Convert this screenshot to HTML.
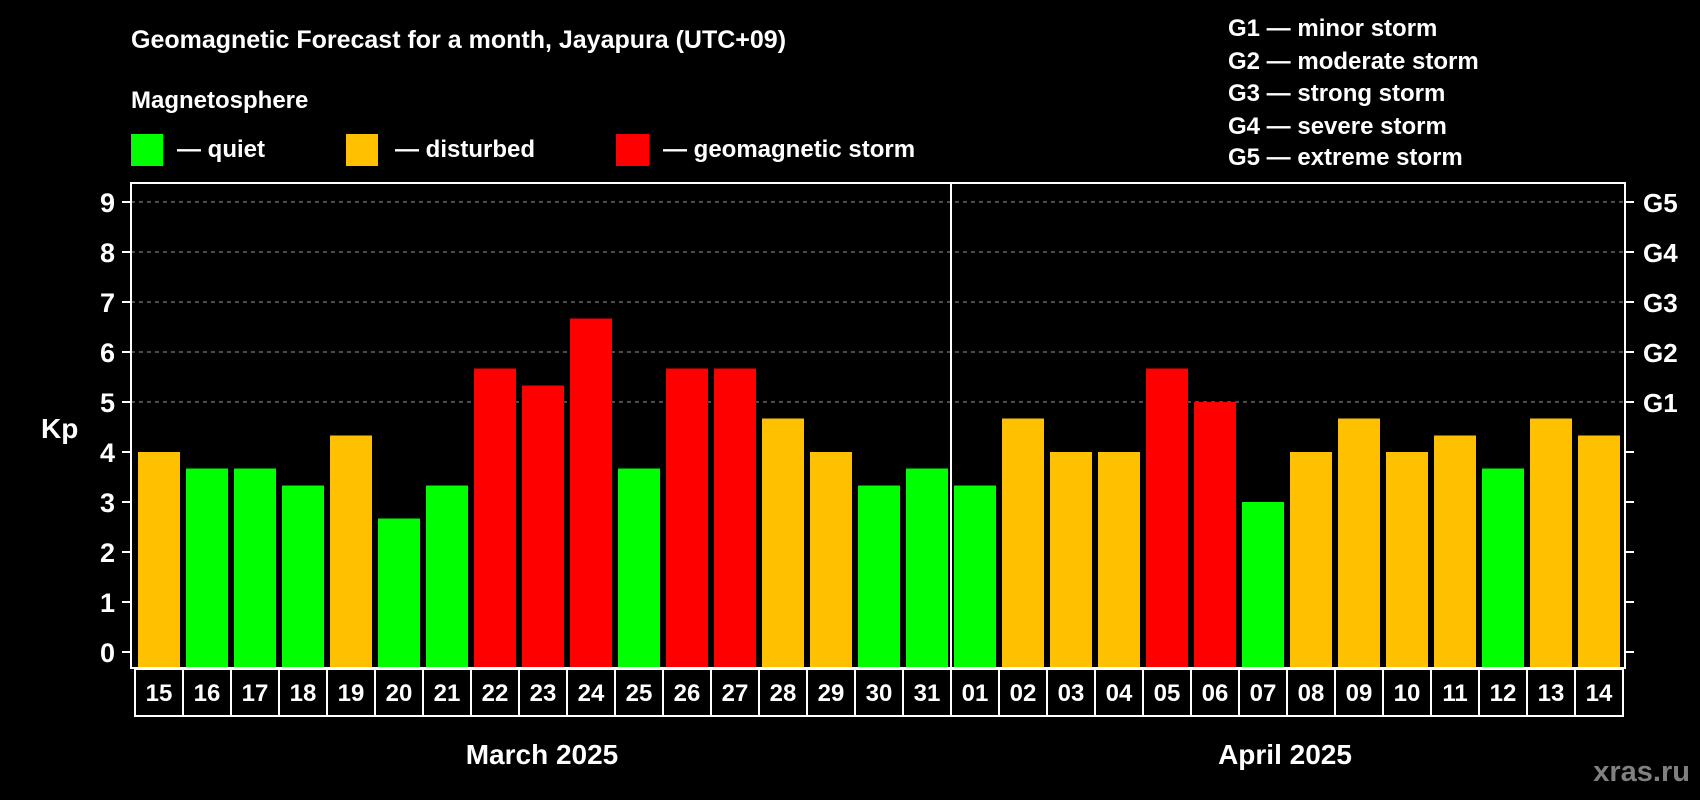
<!DOCTYPE html>
<html><head><meta charset="utf-8"><style>
body{margin:0;background:#000;}
svg{display:block;font-family:"Liberation Sans",sans-serif;font-weight:bold;}
</style></head><body>
<svg id="chart" width="1700" height="800" viewBox="0 0 1700 800">
<rect width="1700" height="800" fill="#000"/>
<text x="131" y="48" fill="#fff" font-size="25">Geomagnetic Forecast for a month, Jayapura (UTC+09)</text>
<text x="131" y="108" fill="#fff" font-size="24">Magnetosphere</text>
<g><rect x="131" y="134" width="32" height="32" fill="#00ff00"/><text x="177" y="157" fill="#fff" font-size="24">— quiet</text></g>
<g><rect x="346" y="134" width="32" height="32" fill="#ffc000"/><text x="395" y="157" fill="#fff" font-size="24">— disturbed</text></g>
<g><rect x="616" y="134" width="33" height="32" fill="#ff0000"/><text x="663" y="157" fill="#fff" font-size="24">— geomagnetic storm</text></g>
<g fill="#fff" font-size="24">
<text x="1228" y="36">G1 — minor storm</text>
<text x="1228" y="69">G2 — moderate storm</text>
<text x="1228" y="101">G3 — strong storm</text>
<text x="1228" y="134">G4 — severe storm</text>
<text x="1228" y="165">G5 — extreme storm</text>
</g>
<g id="grid"></g>
<g id="bars"></g>
<rect x="131" y="183" width="1494" height="485" fill="none" stroke="#fff" stroke-width="2"/>
<line x1="951" y1="183" x2="951" y2="668" stroke="#fff" stroke-width="2"/>
<g id="axes"></g>
<g id="dates"></g>
<text x="41" y="438" fill="#fff" font-size="28">Kp</text>
<text x="542" y="764" fill="#fff" font-size="28" text-anchor="middle">March 2025</text>
<text x="1285" y="764" fill="#fff" font-size="28" text-anchor="middle">April 2025</text>
<text x="1690" y="781" fill="#808080" font-size="29" text-anchor="end">xras.ru</text>
</svg>
<script>
const days = ["15","16","17","18","19","20","21","22","23","24","25","26","27","28","29","30","31","01","02","03","04","05","06","07","08","09","10","11","12","13","14"];
const kpValues = [4,3.67,3.67,3.33,4.33,2.67,3.33,5.67,5.33,6.67,3.67,5.67,5.67,4.67,4,3.33,3.67,3.33,4.67,4,4,5.67,5,3,4,4.67,4,4.33,3.67,4.67,4.33];
const yTicks = [0,1,2,3,4,5,6,7,8,9];
const gLevels = [5,6,7,8,9];
const gLabels = ["G1","G2","G3","G4","G5"];
const NS="http://www.w3.org/2000/svg";
const y0=652, unit=50, x0=135, step=48;
const yS=v=>y0-v*unit;
const xS=i=>x0+i*step;
function mk(tag,attrs,parent){const e=document.createElementNS(NS,tag);for(const k in attrs)e.setAttribute(k,attrs[k]);parent.appendChild(e);return e;}
const grid=document.getElementById('grid'),bars=document.getElementById('bars'),axes=document.getElementById('axes'),dates=document.getElementById('dates');
gLevels.forEach((v,i)=>{
  const l=mk('line',{x1:131,x2:1625,y1:yS(v),y2:yS(v),stroke:'#999','stroke-dasharray':'4 4','stroke-width':1},grid);
  
  
  const t=mk('text',{x:1643,y:yS(v)+10,fill:'#fff','font-size':26},axes);
  t.textContent=gLabels[i];
  
  
});
yTicks.forEach(v=>{
  mk('line',{x1:122,x2:131,y1:yS(v),y2:yS(v),stroke:'#fff','stroke-width':2},axes);
  mk('line',{x1:1625,x2:1634,y1:yS(v),y2:yS(v),stroke:'#fff','stroke-width':2},axes);
  const t=mk('text',{x:115,y:yS(v)+10,fill:'#fff','font-size':27,'text-anchor':'end'},axes);
  t.textContent=v;
  
  
});
kpValues.forEach((v,i)=>{
  const c=v>=5?'#ff0000':(v>=4?'#ffc000':'#00ff00');
  const r=mk('rect',{x:xS(i)+3,y:yS(v),width:42,height:667-yS(v),fill:c},bars);
  
  
  const b=mk('rect',{x:xS(i),y:669,width:step,height:47,fill:'none',stroke:'#fff','stroke-width':2},dates);
  
  
  const t=mk('text',{x:xS(i)+step/2,y:701,fill:'#fff','font-size':24,'text-anchor':'middle'},dates);
  t.textContent=days[i];
  
  
});
</script>
</body></html>
